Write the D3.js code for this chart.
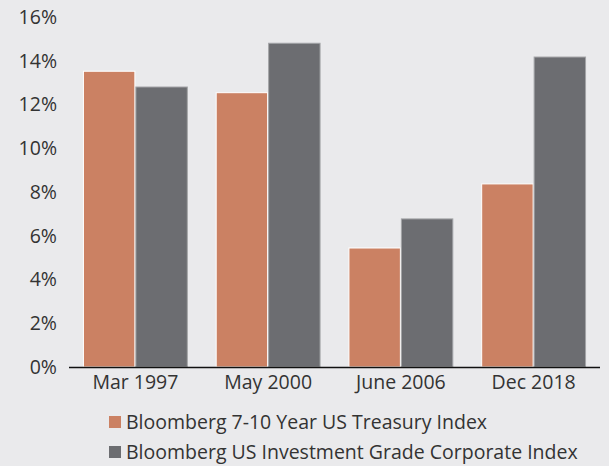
<!DOCTYPE html>
<html>
<head>
<meta charset="utf-8">
<script src="https://cdn.jsdelivr.net/npm/d3@7"></script>
<style>
  body { margin: 0; background: #eaeaec; }
  svg { display: block; }
  .axis text { font-family: "Open Sans", sans-serif; font-size: 19.5px; fill: #333; }
</style>
</head>
<body>
<div id="chart"></div>
<script>
// data
const periods = ["Mar 1997", "May 2000", "June 2006", "Dec 2018"];
const treasury = [13.52, 12.54, 5.44, 8.37];
const corporate = [12.8, 14.8, 6.77, 14.17];
const seriesNames = ["Bloomberg 7-10 Year US Treasury Index", "Bloomberg US Investment Grade Corporate Index"];
const yTicks = [0, 2, 4, 6, 8, 10, 12, 14, 16];

const width = 609, height = 466;
const margin = {top: 17, right: 9, bottom: 99, left: 69};
const w = width - margin.left - margin.right;
const h = height - margin.top - margin.bottom;

const colors = ["#cb8163", "#6c6d71"];
const strokes = ["#ffffff", "#a3a4a7"];

const svg = d3.select("#chart").append("svg")
    .attr("width", width)
    .attr("height", height);

const g = svg.append("g")
    .attr("transform", `translate(${margin.left},${margin.top})`);

// scales
const x0 = d3.scaleBand()
    .domain(periods)
    .range([0, w])
    .paddingInner(0.21)
    .paddingOuter(0.105);
const x1 = d3.scaleBand()
    .domain([0, 1])
    .range([0, x0.bandwidth()]);
const y = d3.scaleLinear()
    .domain([0, 16])
    .range([h, 0]);

const rows = periods.map((p, i) => ({period: p, values: [treasury[i], corporate[i]]}));

// bars
const groups = g.selectAll(".group")
    .data(rows)
    .enter().append("g")
    .attr("class", "group")
    .attr("transform", d => `translate(${x0(d.period)},0)`);

groups.selectAll("rect")
    .data(d => d.values.map((v, k) => ({k: k, v: v})))
    .enter().append("rect")
    .attr("x", d => x1(d.k) + 0.5)
    .attr("y", d => y(d.v))
    .attr("width", x1.bandwidth() - 1)
    .attr("height", d => h - y(d.v))
    .attr("fill", d => colors[d.k])
    .attr("stroke", d => strokes[d.k])
    .attr("stroke-width", 1);

// y axis (labels only)
const yAxis = d3.axisLeft(y)
    .tickValues(yTicks)
    .tickFormat(d => d + "%")
    .tickSize(0)
    .tickPadding(12);
g.append("g")
    .attr("class", "axis y-axis")
    .call(yAxis)
    .call(s => s.select(".domain").remove());

// x axis
const xAxis = d3.axisBottom(x0)
    .tickSize(0)
    .tickPadding(8);
g.append("g")
    .attr("class", "axis x-axis")
    .attr("transform", `translate(0,${h})`)
    .call(xAxis)
    .call(s => s.select(".domain").remove());

g.append("line")
    .attr("x1", 0)
    .attr("x2", w)
    .attr("y1", h + 0.5)
    .attr("y2", h + 0.5)
    .attr("stroke", "#111")
    .attr("stroke-width", 1.6);

// legend
const legend = svg.append("g")
    .attr("transform", "translate(109,416)");
const items = legend.selectAll(".item")
    .data(seriesNames)
    .enter().append("g")
    .attr("class", "item")
    .attr("transform", (d, i) => `translate(0,${i * 30})`);
items.append("rect")
    .attr("width", 12)
    .attr("height", 12)
    .attr("fill", (d, i) => colors[i]);
items.append("text")
    .attr("x", 17)
    .attr("y", 6)
    .attr("dy", "0.35em")
    .style("font-family", "'Open Sans', sans-serif")
    .style("font-size", "19.5px")
    .style("fill", "#333")
    .text(d => d);
</script>
</body>
</html>
